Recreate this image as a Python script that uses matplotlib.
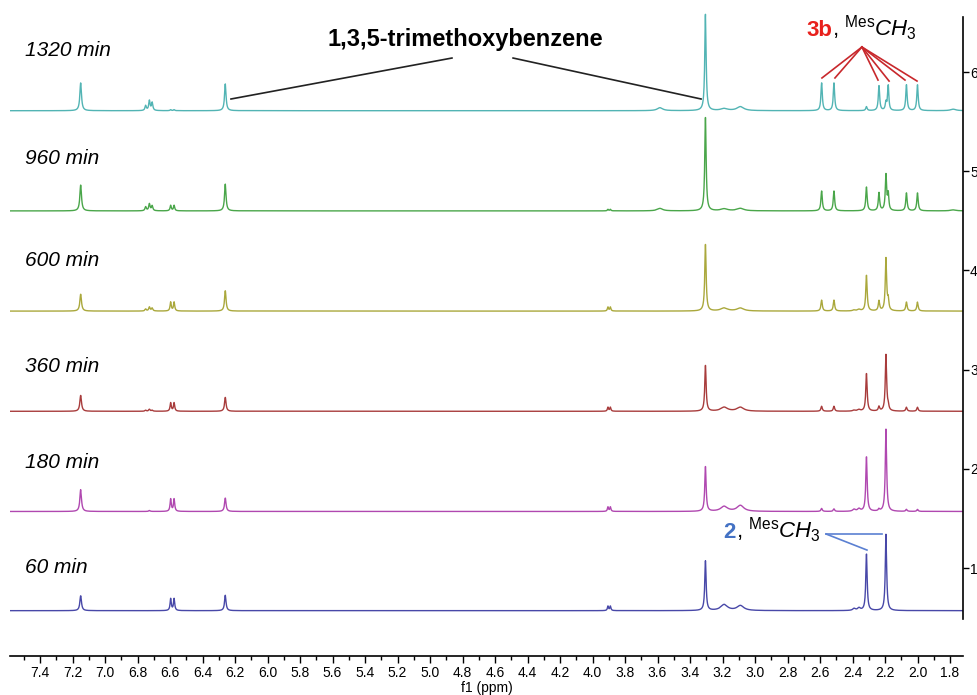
import numpy as np
import matplotlib
matplotlib.use("Agg")
import matplotlib.pyplot as plt
from matplotlib.ticker import MultipleLocator, FormatStrFormatter

plt.rcParams['font.family'] = ['Liberation Sans', 'DejaVu Sans']
plt.rcParams['mathtext.fontset'] = 'custom'
plt.rcParams['mathtext.rm'] = 'Liberation Sans'
plt.rcParams['mathtext.it'] = 'Liberation Sans:italic'
plt.rcParams['mathtext.bf'] = 'Liberation Sans:bold'

# ---------------- data ----------------
spectra_labels = ["1320 min", "960 min", "600 min", "360 min", "180 min", "60 min"]
spectra_colors = ["#52b4b4", "#4aa64a", "#aaa83c", "#a83c3c", "#b048b0", "#4848a8"]
baselines = [5.61, 4.60, 3.59, 2.58, 1.57, 0.57]
label_y = [6.22, 5.13, 4.10, 3.03, 2.06, 1.01]

# peak positions (ppm) and half widths (ppm)
peak_ppm = [7.150, 6.750, 6.727, 6.710, 6.596, 6.575, 6.260, 3.905, 3.890, 3.585,
            3.305, 3.190, 3.090, 2.590, 2.514, 2.390, 2.360, 2.314, 2.237, 2.194,
            2.180, 2.068, 2.000, 1.780]
peak_hw = [0.006, 0.005, 0.005, 0.005, 0.0045, 0.0045, 0.0055, 0.004, 0.004, 0.02,
           0.005, 0.025, 0.025, 0.005, 0.005, 0.01, 0.01, 0.005, 0.005, 0.005,
           0.0045, 0.005, 0.005, 0.02]

# peak heights (hundredths of a right-axis unit)
h_1320 = [28, 5, 10, 8, 1, 1, 27, 0, 0, 3, 97, 2, 4, 28, 28, 0, 0, 4, 25, 8, 25, 26, 26, 1.5]
h_960 = [26, 4, 7, 5, 5.5, 5.5, 27, 1.5, 1.5, 2.5, 94, 2, 2.5, 20, 20, 0, 0, 24, 18, 36, 16, 18, 18, 1]
h_600 = [17, 2, 4, 3, 9, 9, 20.5, 4, 4, 0, 67, 3, 3, 11, 11, 1, 1.5, 36, 10, 53, 10, 9, 9, 0]
h_360 = [16, 1, 2, 1, 8.5, 8.5, 14, 4, 4, 0, 46, 4, 4, 5, 5, 1, 1.5, 38, 4.5, 57, 4, 4, 4, 0]
h_180 = [22, 0, 1, 0, 12.5, 12.5, 13.5, 4.5, 4.5, 0, 45, 5, 6, 3, 2.5, 2, 2.5, 55, 2, 83, 0, 2, 2, 0]
h_60 = [15, 0, 0, 0, 12, 12, 15.5, 4.5, 4.5, 0, 50, 6, 5, 0, 0, 2, 2.5, 57, 0, 77, 0, 0, 0, 0]
heights = [h_1320, h_960, h_600, h_360, h_180, h_60]

y_ticks = [1, 2, 3, 4, 5, 6]

# ---------------- figure ----------------
W, H = 977, 695
fig = plt.figure(figsize=(W / 100, H / 100), dpi=100)
ax = fig.add_axes([10 / W, 39 / H, 953 / W, 656 / H])

x = np.linspace(1.70, 7.60, 8000)
pp = np.array(peak_ppm)[:, None]
hw = np.array(peak_hw)[:, None]
for hts, base, col in zip(heights, baselines, spectra_colors):
    amp = np.array(hts, dtype=float)[:, None] * 0.01
    y = base + (amp / (1 + ((x[None, :] - pp) / hw) ** 2)).sum(axis=0)
    ax.plot(x, y, color=col, lw=1.0)

for lab, ly in zip(spectra_labels, label_y):
    ax.text(7.49, ly, lab, ha='left', va='center', fontsize=15, style='italic')

ax.set_xlim(7.585, 1.72)
ax.set_ylim(0.113, 6.726)

# annotations
ax.text(4.785, 6.323, "1,3,5-trimethoxybenzene", ha='center', va='center',
        fontsize=17, fontweight='bold')
ax.plot([4.865, 6.225], [6.141, 5.728], color='#222222', lw=1.2)
ax.plot([4.489, 3.332], [6.141, 5.728], color='#222222', lw=1.2)

red = '#e8201c'
ax.text(2.526, 6.363, "3b", color=red, fontweight='bold', fontsize=16,
        ha='right', va='baseline')
ax.text(2.526, 6.363, r", $^{\mathrm{Mes}}\mathit{CH}_3$", fontsize=16,
        ha='left', va='baseline')
for ex, ey in [(2.588, 5.94), (2.508, 5.94), (2.243, 5.919), (2.175, 5.909),
               (2.077, 5.919), (2.003, 5.909)]:
    ax.plot([2.342, ex], [6.252, ey], color='#c8282c', lw=1.2)

blue = '#4472c4'
ax.text(3.117, 1.302, "2", color=blue, fontweight='bold', fontsize=16,
        ha='right', va='baseline')
ax.text(3.117, 1.302, r", $^{\mathrm{Mes}}\mathit{CH}_3$", fontsize=16,
        ha='left', va='baseline')
ax.plot([2.563, 2.311], [1.343, 1.181], color='#5b80d2', lw=1.2)
ax.plot([2.563, 2.218], [1.343, 1.343], color='#5b80d2', lw=1.2)

# axes styling
for s in ['left', 'top']:
    ax.spines[s].set_visible(False)
ax.spines['right'].set_bounds(0.49, 6.55)
ax.spines['right'].set_linewidth(1.2)
ax.spines['bottom'].set_linewidth(1.2)

ax.xaxis.set_major_locator(MultipleLocator(0.2))
ax.xaxis.set_minor_locator(MultipleLocator(0.1))
ax.xaxis.set_major_formatter(FormatStrFormatter('%.1f'))
ax.tick_params(axis='x', which='major', direction='out', length=5, width=1, labelsize=10, pad=2)
ax.tick_params(axis='x', which='minor', direction='out', length=3, width=1)
ax.set_xlabel("f1 (ppm)", fontsize=10, labelpad=1)

ax.yaxis.tick_right()
ax.set_yticks(y_ticks)
ax.set_yticklabels([str(t) for t in y_ticks])
ax.tick_params(axis='y', which='major', direction='out', length=4, width=1, labelsize=10, pad=1)

fig.savefig('out.png', dpi=100)
